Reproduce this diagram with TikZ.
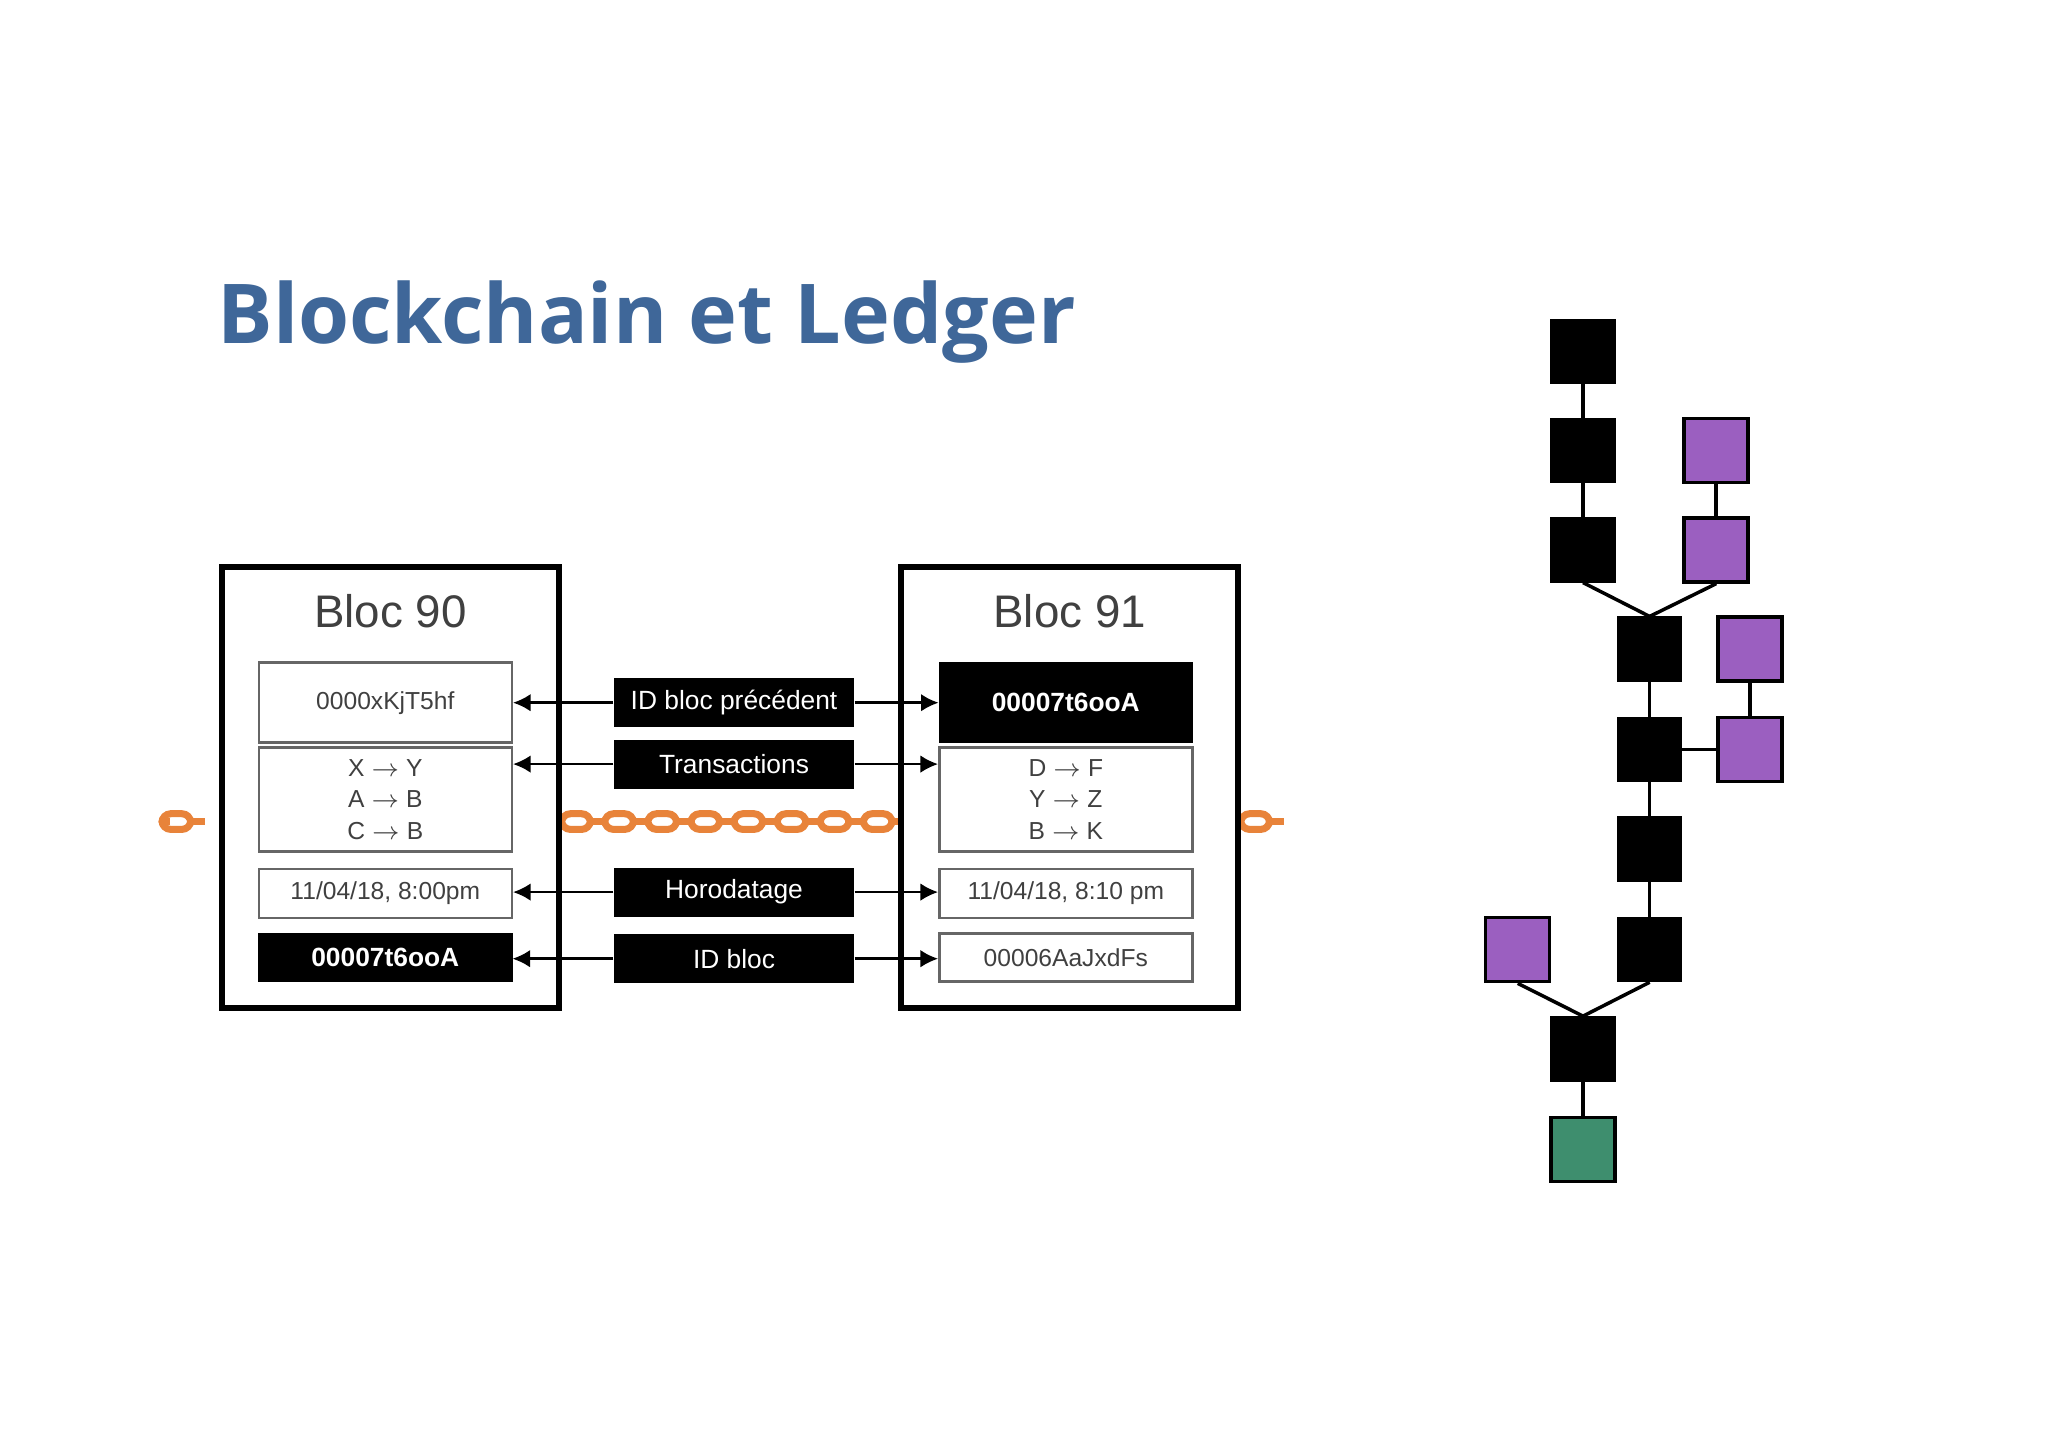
\documentclass[tikz,border=0pt]{standalone}
\usepackage{fontspec}
\setmainfont{Liberation Sans}
\newfontfamily\titlefont{Open Sans}
\usetikzlibrary{arrows.meta}
\definecolor{tb}{HTML}{3F6799}
\definecolor{og}{HTML}{E8833A}
\definecolor{pu}{HTML}{9B5FC0}
\definecolor{gr}{HTML}{3E8E6E}
\tikzset{
  bloc/.style={draw,line width=1.6pt,minimum width=3.37cm,minimum height=4.41cm,inner sep=0pt},
  champ/.style={draw=black!60,line width=0.7pt,minimum width=2.53cm,inner sep=0pt,font=\fontsize{7}{9}\selectfont,text=black!75,align=center},
  noir/.style={fill=black,draw=black,text=white,font=\bfseries\fontsize{7.5}{9}\selectfont,minimum width=2.53cm,inner sep=0pt},
  etiq/.style={fill=black,text=white,font=\fontsize{7.5}{9}\selectfont,minimum width=2.4cm,minimum height=0.49cm,inner sep=0pt},
  fl/.style={-{Latex[length=5pt,width=5pt]},line width=0.7pt},
  bk/.style={fill=black,draw=black,minimum size=0.64cm,inner sep=0pt},
  pk/.style={fill=pu,draw=black,line width=1pt,minimum size=0.64cm,inner sep=0pt},
  gk/.style={fill=gr,draw=black,line width=1pt,minimum size=0.64cm,inner sep=0pt}
}
\newcommand{\maillons}[3]{% x start, number, y
\foreach \i in {1,...,#2}{
\draw[og,line width=2pt,rounded corners=2.5pt] ({#1+(\i-1)*33},{#3-6}) rectangle ({#1+(\i-1)*33+22},{#3+6});
\draw[og,line width=2pt] ({#1+(\i-1)*33+22},#3) -- ({#1+\i*33},#3);
}
}
\begin{document}
\begin{tikzpicture}[x=0.01306cm,y=-0.01306cm]
\useasboundingbox (0,0) rectangle (1568,1110);
\node[anchor=base west,text=tb,font=\titlefont\bfseries\fontsize{23.5}{28}\selectfont,inner sep=0pt] (titre) at (166,263) {Blockchain et Ledger};

% chaine
\maillons{124}{1}{629}
\draw[og,line width=2pt] (124,629) -- (130,629);
\maillons{430}{8}{629}
\maillons{950}{1}{629}

% blocs
\node[bloc,fill=white] (b90) at (299,603) {};
\node[bloc,fill=white] (b91) at (819,603) {};
\node[font=\fontsize{13}{16}\selectfont,text=black!75] (t90) at (299,468) {Bloc 90};
\node[font=\fontsize{13}{16}\selectfont,text=black!75] (t91) at (819,468) {Bloc 91};

\node[champ,minimum height=0.8cm] (p90) at (295,538) {0000xKjT5hf};
\node[champ,minimum height=1.04cm] (x90) at (295,612) {X $\rightarrow$ Y\\A $\rightarrow$ B\\C $\rightarrow$ B};
\node[champ,minimum height=0.49cm] (h90) at (295,684) {11/04/18, 8:00pm};
\node[noir,minimum height=0.48cm] (i90) at (295,733) {00007t6ooA};

\node[noir,minimum height=0.8cm] (p91) at (816,538) {00007t6ooA};
\node[champ,minimum height=1.04cm] (x91) at (816,612) {D $\rightarrow$ F\\Y $\rightarrow$ Z\\B $\rightarrow$ K};
\node[champ,minimum height=0.49cm] (h91) at (816,684) {11/04/18, 8:10 pm};
\node[champ,minimum height=0.48cm] (i91) at (816,733) {00006AaJxdFs};

\node[etiq] (e1) at (562,538) {ID bloc précédent};
\node[etiq] (e2) at (562,585) {Transactions};
\node[etiq] (e3) at (562,683) {Horodatage};
\node[etiq] (e4) at (562,734) {ID bloc};

\draw[fl] (e1.west) -- (p90.east|-e1.west);
\draw[fl] (e1.east) -- (p91.west|-e1.east);
\draw[fl] (e2.west) -- (x90.east|-e2.west);
\draw[fl] (e2.east) -- (x91.west|-e2.east);
\draw[fl] (e3.west) -- (h90.east|-e3.west);
\draw[fl] (e3.east) -- (h91.west|-e3.east);
\draw[fl] (e4.west) -- (i90.east|-e4.west);
\draw[fl] (e4.east) -- (i91.west|-e4.east);

% arbre
\node[bk] (a1) at (1212,269) {};
\node[bk] (a2) at (1212,345) {};
\node[bk] (a3) at (1212,421) {};
\node[pk] (q1) at (1314,345) {};
\node[pk] (q2) at (1314,421) {};
\node[bk] (c1) at (1263,497) {};
\node[bk] (c2) at (1263,574) {};
\node[bk] (c3) at (1263,650) {};
\node[bk] (c4) at (1263,727) {};
\node[pk] (r1) at (1340,497) {};
\node[pk] (r2) at (1340,574) {};
\node[pk] (s1) at (1162,727) {};
\node[bk] (d1) at (1212,803) {};
\node[gk] (g1) at (1212,880) {};

\draw[line width=1pt] (a1) -- (a2) -- (a3);
\draw[line width=1pt] (q1) -- (q2);
\draw[line width=1pt] (a3.south) -- (c1.north);
\draw[line width=1pt] (q2.south) -- (c1.north);
\draw[line width=1pt] (c1) -- (c2) -- (c3) -- (c4);
\draw[line width=1pt] (c2) -- (r2);
\draw[line width=1pt] (r1) -- (r2);
\draw[line width=1pt] (c4.south) -- (d1.north);
\draw[line width=1pt] (s1.south) -- (d1.north);
\draw[line width=1pt] (d1) -- (g1);
\end{tikzpicture}
\end{document}
